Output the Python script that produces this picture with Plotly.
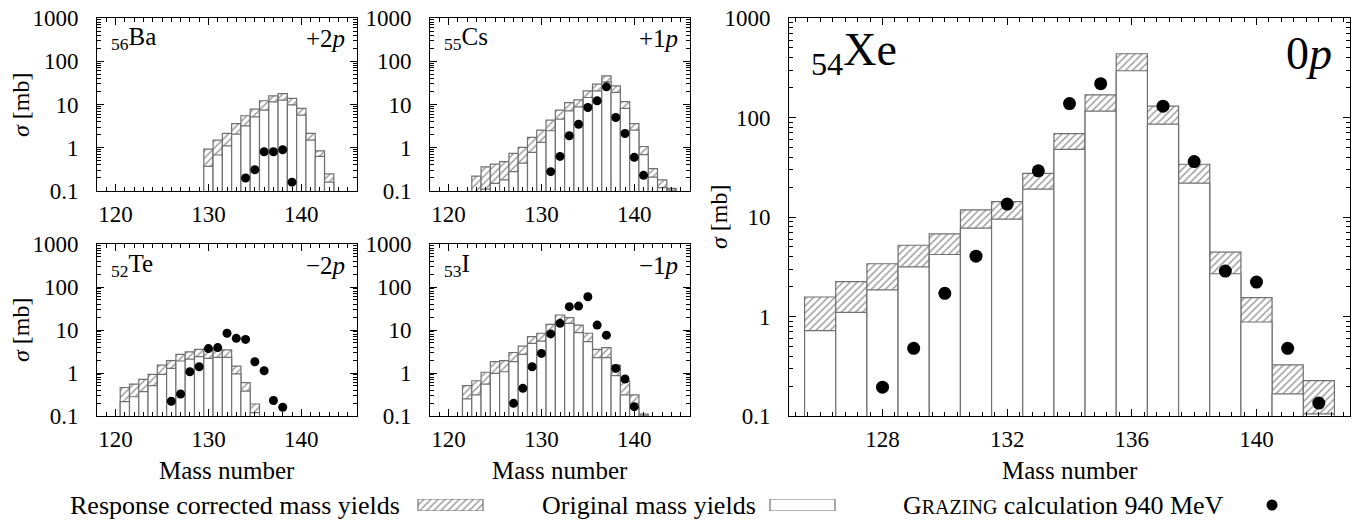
import plotly.graph_objects as go

W, H = 1365, 527
FONT = "Liberation Serif, Times New Roman, DejaVu Serif, serif"
GRAY = "#707070"
HATCH = "#404040"

# ---------------- data ----------------
ba_A = list(range(130, 144))
ba_corr = [0.93, 1.5, 2.14, 3.6, 5.5, 7.8, 12.2, 15.8, 17.9, 13.8, 8.1, 2.14, 0.85, 0.25]
ba_orig = [0.37, 0.68, 1.1, 2.07, 3.2, 5.2, 7.4, 11.5, 12.6, 9.8, 5.7, 1.5, 0.63, 0.16]
ba_calc_A = [134, 135, 136, 137, 138, 139]
ba_calc = [0.2, 0.31, 0.81, 0.81, 0.9, 0.16]

cs_A = list(range(123, 145))
cs_corr = [0.22, 0.36, 0.42, 0.48, 0.74, 1.02, 1.73, 2.56, 4.35, 7.4, 11.1, 12.8, 20.6,
           29.5, 45.8, 27, 11.7, 3.6, 1.07, 0.33, 0.18, 0.115]
cs_orig = [None, 0.11, 0.15, 0.18, 0.28, 0.44, 0.78, 1.33, 2.47, 4.6, 7.1, 8.8, 14.5,
           20.6, 33.3, 19, 8.1, 2.56, 0.69, 0.21, 0.12, 0.105]
cs_calc_A = list(range(131, 142))
cs_calc = [0.28, 0.63, 1.89, 3.5, 8.5, 12.2, 25.6, 5.0, 2.14, 0.6, 0.23]

te_A = list(range(121, 136))
te_corr = [0.46, 0.55, 0.71, 0.93, 1.53, 1.93, 2.7, 3.1, 3.55, 3.6, 3.45, 3.45, 1.45, 0.6, 0.19]
te_orig = [0.216, 0.28, 0.37, 0.51, 0.93, 1.28, 1.9, 2.1, 2.4, 2.2, 2.3, 2.3, 0.95, 0.38, 0.12]
te_calc_A = list(range(126, 139))
te_calc = [0.22, 0.325, 1.07, 1.4, 3.7, 3.9, 8.4, 6.4, 6.05, 1.83, 1.13, 0.23, 0.16]

i_A = list(range(122, 142))
i_corr = [0.51, 0.66, 1.04, 1.83, 1.93, 3.0, 4.2, 7.0, 8.4, 13.5, 22.3, 19.4, 13.0, 8.4,
          3.55, 3.9, 1.53, 0.65, 0.31, 0.11]
i_orig = [0.25, 0.31, 0.55, 0.98, 1.07, 1.83, 2.7, 4.9, 5.5, 9.1, 15.6, 14.3, 8.7, 5.35,
          2.27, 2.27, 0.87, 0.31, 0.156, 0.104]
i_calc_A = list(range(127, 141))
i_calc = [0.197, 0.44, 1.4, 2.86, 8.1, 14.3, 34.9, 36, 59.5, 13, 7.6, 1.28, 0.725, 0.165]

xe_A = list(range(126, 143))
xe_corr = [1.57, 2.24, 3.39, 5.2, 6.76, 11.8, 14.3, 27.5, 69, 169, 437, 130, 33.9, 4.43,
           1.55, 0.326, 0.227]
xe_orig = [0.72, 1.1, 1.85, 3.16, 4.2, 7.74, 9.5, 19.05, 47.9, 116, 295, 85.8, 21.9, 2.69,
           0.88, 0.167, 0.105]
xe_calc_A = [128, 129, 130, 131, 132, 133, 134, 135, 137, 138, 139, 140, 141, 142]
xe_calc = [0.195, 0.479, 1.71, 4.04, 13.5, 29.1, 138, 219, 130, 36.1, 2.86, 2.22, 0.479, 0.135]

y_tickvals = [0.1, 1, 10, 100, 1000]
y_ticktext = ["0.1", "1", "10", "100", "1000"]

legend_labels = ["Response corrected mass yields", "Original mass yields",
                 "G<span style='font-size:20px'>RAZING</span> calculation 940 MeV"]


def X(px):
    return px / W


def Y(py):
    return 1 - py / H


panels = [
    ("", ba_A, ba_corr, ba_orig, ba_calc_A, ba_calc, (97, 357), (18, 191), [118, 146], 10, 1, 9, "56", "Ba", "+2<i>p</i>"),
    ("2", cs_A, cs_corr, cs_orig, cs_calc_A, cs_calc, (430, 690), (18, 191), [118, 146], 10, 1, 9, "55", "Cs", "+1<i>p</i>"),
    ("3", te_A, te_corr, te_orig, te_calc_A, te_calc, (97, 357), (244, 416), [118, 146], 10, 1, 9, "52", "Te", "\u22122<i>p</i>"),
    ("4", i_A, i_corr, i_orig, i_calc_A, i_calc, (430, 690), (244, 416), [118, 146], 10, 1, 9, "53", "I", "\u22121<i>p</i>"),
    ("5", xe_A, xe_corr, xe_orig, xe_calc_A, xe_calc, (789, 1350), (18, 416), [125, 143], 4, 0.4, 13, "54", "Xe", "0<i>p</i>"),
]

minor_y = []
for d in [0.1, 1, 10, 100]:
    for k in range(2, 10):
        minor_y.append(round(d * k, 4))

fig = go.Figure()
layout = dict(
    width=W, height=H, autosize=False,
    margin=dict(l=0, r=0, t=0, b=0, pad=0, autoexpand=False),
    paper_bgcolor="white", plot_bgcolor="white",
    barmode="overlay", showlegend=False,
    font=dict(family=FONT, size=22, color="black"),
)
annotations = []

for (s, A, corr, orig, cA, calc, xd, yd, xr, dt, mdt, msz, Z, el, lab) in panels:
    xa = "x" + s
    ya = "y" + s
    fig.add_trace(go.Bar(
        x=A, y=corr, width=1, xaxis=xa, yaxis=ya,
        marker=dict(color="white", line=dict(color=GRAY, width=1.2),
                    pattern=dict(shape="/", fgcolor=HATCH, bgcolor="white", size=5, solidity=0.3)),
    ))
    fig.add_trace(go.Bar(
        x=A, y=orig, width=1, xaxis=xa, yaxis=ya,
        marker=dict(color="white", line=dict(color=GRAY, width=1.2)),
    ))
    fig.add_trace(go.Scatter(
        x=cA, y=calc, mode="markers", xaxis=xa, yaxis=ya,
        marker=dict(color="black", size=msz, line=dict(width=0)),
    ))
    layout["xaxis" + s] = dict(
        domain=[X(xd[0]), X(xd[1])], range=xr, anchor=ya, automargin=False,
        showline=True, linecolor="black", linewidth=1, mirror="ticks",
        ticks="inside", ticklen=7, tickcolor="black", tick0=0, dtick=dt,
        minor=dict(ticks="inside", ticklen=4, tickcolor="black", dtick=mdt, tick0=0, showgrid=False),
        showgrid=False, zeroline=False, tickfont=dict(family=FONT, size=23),
        ticklabelstandoff=2,
    )
    layout["yaxis" + s] = dict(
        domain=[Y(yd[1]), Y(yd[0])], type="log", range=[-1, 3], anchor=xa, automargin=False,
        showline=True, linecolor="black", linewidth=1, mirror="ticks",
        ticks="inside", ticklen=7, tickcolor="black",
        tickmode="array", tickvals=y_tickvals, ticktext=y_ticktext,
        minor=dict(ticks="inside", ticklen=4, tickcolor="black", tickmode="array",
                   tickvals=minor_y, showgrid=False),
        showgrid=False, zeroline=False, tickfont=dict(family=FONT, size=23),
        ticklabelstandoff=13,
    )
    big = s == "5"
    fs = 46 if big else 25
    pad = 20 if big else 12
    cy = (yd[0] + 35) if big else (yd[0] + 21)
    annotations.append(dict(
        text="<sub>%s</sub>%s" % (Z, el), xref="paper", yref="paper",
        x=X(xd[0] + pad), y=Y(cy), xanchor="left", yanchor="middle",
        showarrow=False, font=dict(family=FONT, size=fs),
    ))
    annotations.append(dict(
        text=lab, xref="paper", yref="paper",
        x=X(xd[1] - (16 if big else 10)), y=Y(cy), xanchor="right", yanchor="middle",
        showarrow=False, font=dict(family=FONT, size=fs),
    ))

for (px, py) in [(21, 105), (21, 330), (719, 217)]:
    annotations.append(dict(
        text="<i>\u03c3</i> [mb]", xref="paper", yref="paper", x=X(px), y=Y(py),
        xanchor="center", yanchor="middle", textangle=-90, showarrow=False,
        font=dict(family=FONT, size=24),
    ))
for px in [227, 560, 1070]:
    annotations.append(dict(
        text="Mass number", xref="paper", yref="paper", x=X(px), y=Y(470),
        xanchor="center", yanchor="middle", showarrow=False,
        font=dict(family=FONT, size=25),
    ))

leg_text_right = [402, 758, 1226]
for t, xr_ in zip(legend_labels, leg_text_right):
    annotations.append(dict(
        text=t, xref="paper", yref="paper", x=X(xr_), y=Y(505),
        xanchor="right", yanchor="middle", showarrow=False,
        font=dict(family=FONT, size=26),
    ))

# legend samples on a hidden helper axis (pixel units)
fig.add_trace(go.Bar(
    x=[450.5], y=[1], width=[65], xaxis="x6", yaxis="y6",
    marker=dict(color="white", line=dict(color=GRAY, width=1.2),
                pattern=dict(shape="/", fgcolor=HATCH, bgcolor="white", size=5, solidity=0.3)),
))
fig.add_trace(go.Bar(
    x=[802.5], y=[1], width=[65], xaxis="x6", yaxis="y6",
    marker=dict(color="white", line=dict(color=GRAY, width=1.2)),
))
fig.add_trace(go.Scatter(
    x=[1272], y=[0.5], mode="markers", xaxis="x6", yaxis="y6",
    marker=dict(color="black", size=11),
))
layout["xaxis6"] = dict(domain=[0, 1], range=[0, W], visible=False, anchor="y6", automargin=False)
layout["yaxis6"] = dict(domain=[Y(511), Y(499)], range=[0, 1], visible=False, anchor="x6", automargin=False)

layout["annotations"] = annotations
fig.update_layout(**layout)
fig.write_html(
    "out.html",
    config={"displayModeBar": False},
    post_script="document.body.style.margin='0px';document.body.style.overflow='hidden';",
)
